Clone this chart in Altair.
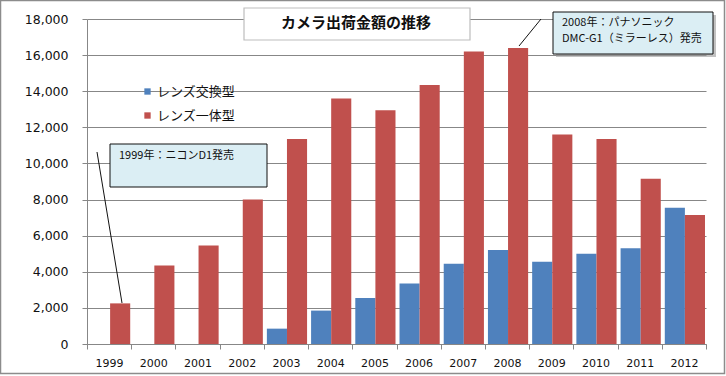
import altair as alt
import pandas as pd

years = ["1999", "2000", "2001", "2002", "2003", "2004", "2005",
         "2006", "2007", "2008", "2009", "2010", "2011", "2012"]
series_names = ["レンズ交換型", "レンズ一体型"]
interchangeable = [0, 0, 0, 0, 850, 1850, 2550, 3350, 4450, 5200, 4550, 5000, 5300, 7550]
integrated = [2250, 4350, 5450, 8000, 11350, 13600, 12950, 14350, 16200, 16400, 11600, 11350, 9150, 7150]
colors = ["#4F81BD", "#C0504D"]
y_ticks = [0, 2000, 4000, 6000, 8000, 10000, 12000, 14000, 16000, 18000]

title_text = "カメラ出荷金額の推移"
note1_lines = ["1999年：ニコンD1発売"]
note2_lines = ["2008年：パナソニック", "DMC-G1（ミラーレス）発売"]

rows = []
for i, yr in enumerate(years):
    rows.append({"year": yr, "series": series_names[0], "value": interchangeable[i]})
    rows.append({"year": yr, "series": series_names[1], "value": integrated[i]})
df = pd.DataFrame(rows)

NUM_FONT = "DejaVu Sans"
JP_FONT = "Noto Sans CJK JP"
GRID = "#878787"

one = pd.DataFrame({"k": [0]})

frame = alt.Chart(one).mark_rect(fill="white", fillOpacity=0, stroke="#8c8c8c", strokeWidth=1.5).encode(
    x=alt.value(-86.5), x2=alt.value(637.5), y=alt.value(-18.5), y2=alt.value(354.5)
)

bars = alt.Chart(df).mark_bar().encode(
    x=alt.X("year:N", sort=years,
            scale=alt.Scale(paddingInner=0, paddingOuter=0),
            axis=alt.Axis(title=None, labelAngle=0, tickBand="extent",
                          domainColor=GRID, tickColor=GRID, tickSize=5,
                          labelPadding=8, labelFont=NUM_FONT, labelFontSize=11,
                          labelColor="#111")),
    xOffset=alt.XOffset("series:N", sort=series_names,
                        scale=alt.Scale(paddingInner=0, paddingOuter=0.1, align=0.75)),
    y=alt.Y("value:Q", scale=alt.Scale(domain=[0, 18000], nice=False),
            axis=alt.Axis(title=None, values=y_ticks, format=",d",
                          grid=True, gridColor=GRID, domainColor=GRID,
                          tickColor=GRID, tickSize=5, labelPadding=14,
                          labelFont=NUM_FONT, labelFontSize=12.5, labelColor="#111")),
    color=alt.Color("series:N", sort=series_names,
                    scale=alt.Scale(domain=series_names, range=colors),
                    legend=alt.Legend(title=None, orient="none", legendX=54, legendY=66,
                                      symbolType="square", symbolSize=40,
                                      symbolStrokeWidth=0, labelFont=JP_FONT,
                                      labelFontSize=13, labelOffset=3, rowPadding=10,
                                      padding=0, labelColor="#111")),
)

# Title box
title_box = alt.Chart(one).mark_rect(fill="white", stroke="#bdbdbd", strokeWidth=1.2).encode(
    x=alt.value(157), x2=alt.value(383), y=alt.value(-11), y2=alt.value(21)
)
title_label = alt.Chart(pd.DataFrame({"t": [title_text]})).mark_text(
    font=JP_FONT, fontSize=15, fontWeight="bold", color="#111", align="center", baseline="middle"
).encode(x=alt.value(269), y=alt.value(4), text="t:N")

# Note 1 (1999)
line1 = alt.Chart(one).mark_rule(color="#111", strokeWidth=1).encode(
    x=alt.value(10), x2=alt.value(35), y=alt.value(133), y2=alt.value(284)
)
box1 = alt.Chart(one).mark_rect(fill="#DBEEF4", stroke="#111", strokeWidth=1).encode(
    x=alt.value(23), x2=alt.value(180), y=alt.value(125), y2=alt.value(168)
)
text1 = alt.Chart(pd.DataFrame({"t": note1_lines})).mark_text(
    font=JP_FONT, fontSize=11, color="#111", align="left", baseline="middle"
).encode(x=alt.value(32), y=alt.value(137), text="t:N")

# Note 2 (2008)
line2 = alt.Chart(one).mark_rule(color="#111", strokeWidth=1).encode(
    x=alt.value(454), x2=alt.value(432), y=alt.value(0), y2=alt.value(27)
)
shadow2 = alt.Chart(one).mark_rect(fill="#9a9a9a", opacity=0.6).encode(
    x=alt.value(469), x2=alt.value(629), y=alt.value(-4), y2=alt.value(38)
)
box2 = alt.Chart(one).mark_rect(fill="#DBEEF4", stroke="#111", strokeWidth=1).encode(
    x=alt.value(466), x2=alt.value(626), y=alt.value(-7), y2=alt.value(35)
)
text2a = alt.Chart(pd.DataFrame({"t": [note2_lines[0]]})).mark_text(
    font=JP_FONT, fontSize=11, color="#111", align="left", baseline="middle"
).encode(x=alt.value(475), y=alt.value(4), text="t:N")
text2b = alt.Chart(pd.DataFrame({"t": [note2_lines[1]]})).mark_text(
    font=JP_FONT, fontSize=11, color="#111", align="left", baseline="middle"
).encode(x=alt.value(475), y=alt.value(20), text="t:N")

chart = alt.layer(
    frame, bars, title_box, title_label, line1, box1, text1,
    line2, shadow2, box2, text2a, text2b
).properties(
    width=619, height=325,
    padding={"left": 87, "top": 19, "right": 20, "bottom": 32},
    autosize=alt.AutoSizeParams(type="none"),
    background="white",
).configure_view(strokeWidth=0)

chart.save("out.html", embed_options={"renderer": "svg", "actions": False})
